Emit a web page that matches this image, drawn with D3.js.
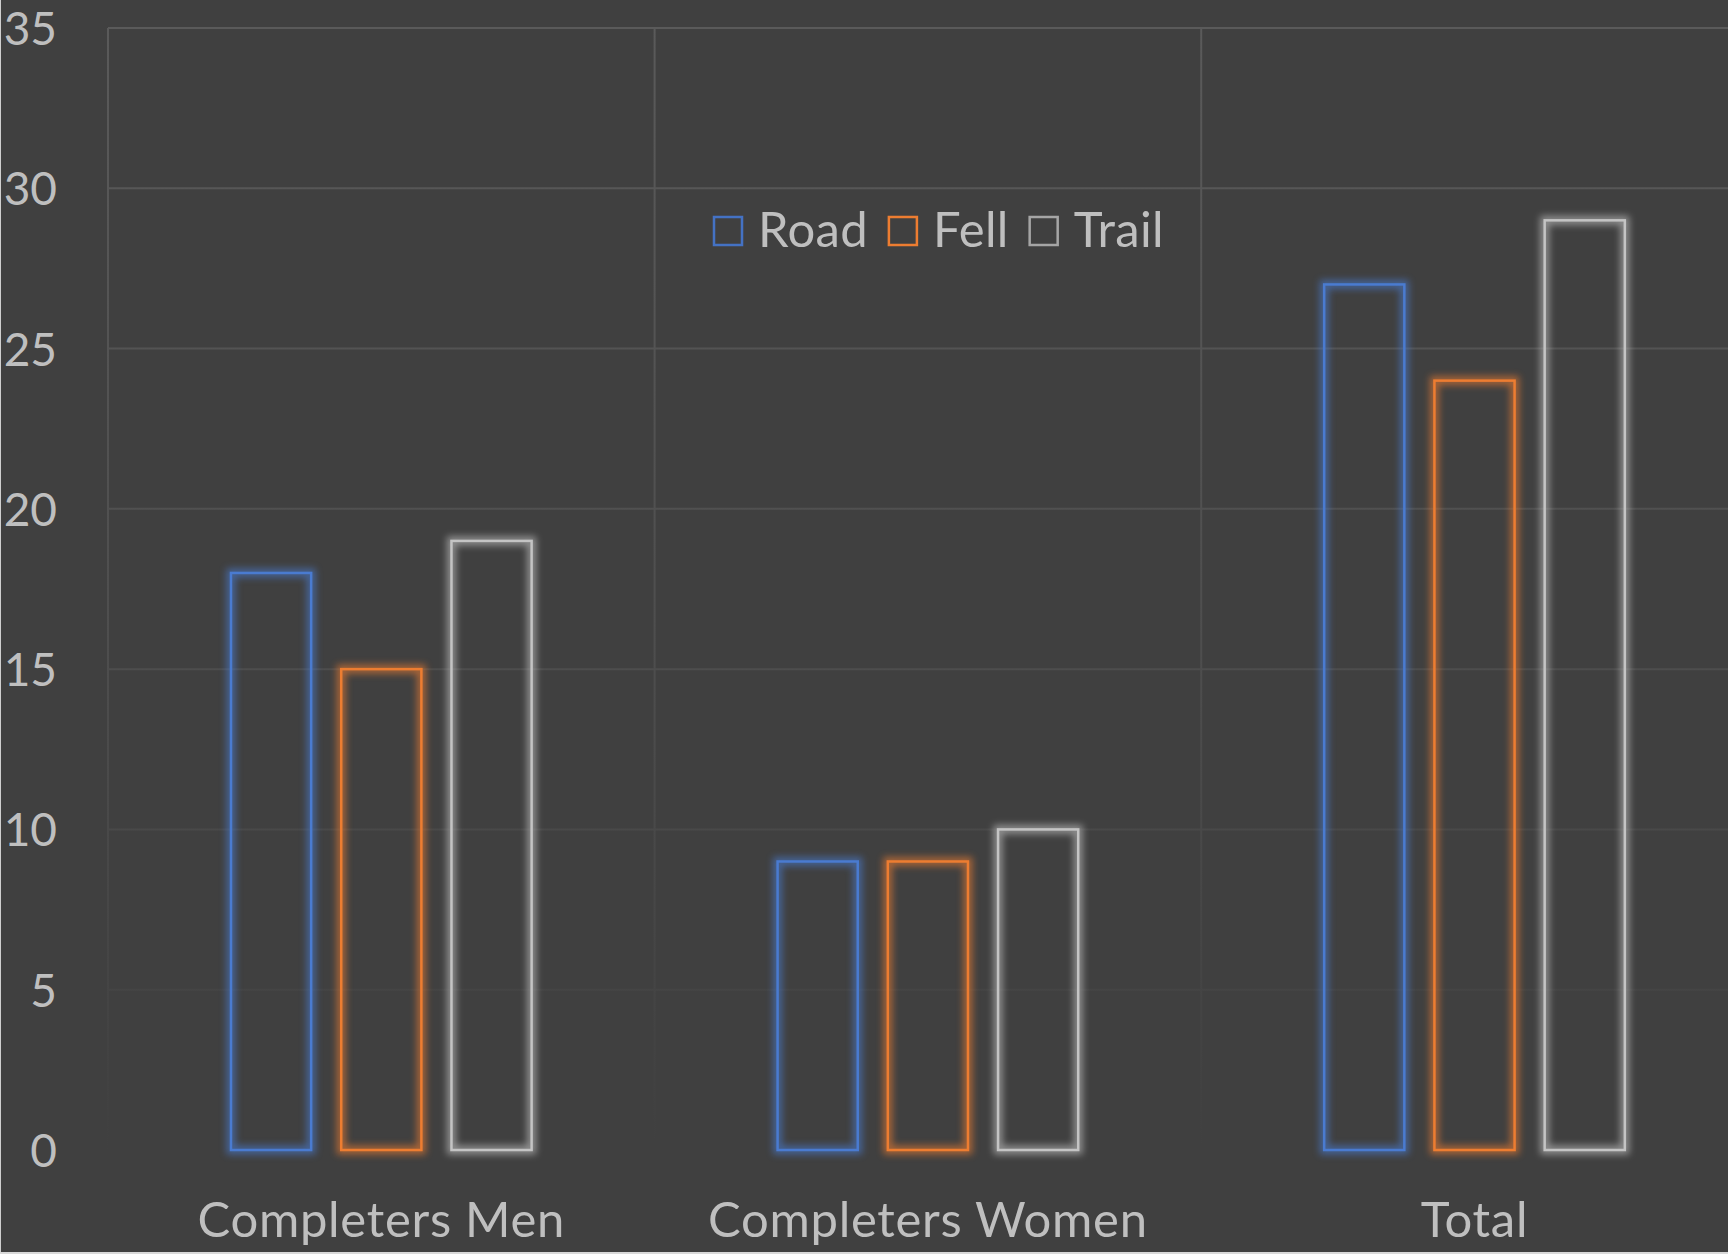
<!DOCTYPE html>
<html>
<head>
<meta charset="utf-8">
<script src="https://cdn.jsdelivr.net/npm/d3@7/dist/d3.min.js"></script>
<style>
  html, body { margin: 0; padding: 0; background: #404040; overflow: hidden; }
  svg { display: block; }
  text { font-family: Lato, "Open Sans", sans-serif; fill: #bfbfbf; letter-spacing: 0.7px; }
</style>
</head>
<body>
<svg id="chart" width="1728" height="1254"></svg>
<script>
// Race finishers by type of running background
const categories = ["Completers Men", "Completers Women", "Total"];
const seriesNames = ["Road", "Fell", "Trail"];
const road  = [18, 9, 27];
const fell  = [15, 9, 24];
const trail = [19, 10, 29];
const yTicks = [0, 5, 10, 15, 20, 25, 30, 35];

const seriesValues = [road, fell, trail];
const barColors = ["#4a7bd0", "#ed7d31", "#c4c4c4"];
const keyColors = ["#4472c4", "#ed7d31", "#a5a5a5"];

const W = 1728, H = 1254;
const plot = { left: 108, top: 28, bottom: 1150, catWidth: 546.6 };
const FONT = 49;

const svg = d3.select("#chart");

const defs = svg.append("defs");
const grad = defs.append("linearGradient")
  .attr("id", "gridFade")
  .attr("gradientUnits", "userSpaceOnUse")
  .attr("x1", 0).attr("y1", plot.top).attr("x2", 0).attr("y2", plot.bottom);
grad.append("stop").attr("offset", 0).attr("stop-color", "#5a5a5a");
grad.append("stop").attr("offset", 0.55).attr("stop-color", "#4e4e4e");
grad.append("stop").attr("offset", 1).attr("stop-color", "#404040");

const glow = defs.append("filter").attr("id", "glow")
  .attr("x", "-30%").attr("y", "-10%").attr("width", "160%").attr("height", "120%");
glow.append("feGaussianBlur").attr("in", "SourceGraphic").attr("stdDeviation", 3.5);

svg.append("rect").attr("width", W).attr("height", H).attr("fill", "#404040");

const x0 = d3.scaleBand()
  .domain(categories)
  .range([plot.left, plot.left + plot.catWidth * categories.length])
  .paddingInner(0).paddingOuter(0);

const x1 = d3.scaleBand()
  .domain(seriesNames)
  .range([0.225 * x0.bandwidth(), 0.775 * x0.bandwidth()])
  .paddingInner(0.273).paddingOuter(0);

const y = d3.scaleLinear().domain([0, 35]).range([plot.bottom, plot.top]);

// gridlines
const grid = svg.append("g").attr("stroke", "url(#gridFade)").attr("stroke-width", 2);
grid.selectAll("line.h").data(yTicks).join("line")
  .attr("class", "h")
  .attr("x1", plot.left).attr("x2", W)
  .attr("y1", d => y(d)).attr("y2", d => y(d));
grid.selectAll("line.v").data(categories).join("line")
  .attr("class", "v")
  .attr("x1", d => x0(d)).attr("x2", d => x0(d))
  .attr("y1", plot.top).attr("y2", plot.bottom);

// y axis labels
const yAxis = d3.axisLeft(y).tickValues(yTicks).tickSize(0).tickPadding(0).tickFormat(d3.format("d"));
const yg = svg.append("g").attr("transform", "translate(57,0)").call(yAxis);
yg.select(".domain").remove();
yg.selectAll("text")
  .attr("font-size", 46).attr("fill", "#bfbfbf").attr("dy", "0.36em")
  .style("letter-spacing", "0px")
  .style("font-family", "Lato, 'Open Sans', sans-serif");

// x axis labels
const xAxis = d3.axisBottom(x0).tickSize(0).tickPadding(0);
const xg = svg.append("g").attr("transform", `translate(0,${plot.bottom})`).call(xAxis);
xg.select(".domain").remove();
xg.selectAll("text")
  .attr("font-size", FONT).attr("fill", "#bfbfbf").attr("y", 87).attr("dy", 0)
  .style("font-family", "Lato, 'Open Sans', sans-serif");

// bars: outlined with a soft glow
const rows = categories.map((c, ci) => ({
  cat: c,
  vals: seriesNames.map((s, si) => ({ s, si, v: seriesValues[si][ci] }))
}));

const groups = svg.append("g").selectAll("g").data(rows).join("g")
  .attr("transform", d => `translate(${x0(d.cat)},0)`);

groups.selectAll("rect.glow").data(d => d.vals).join("rect")
  .attr("class", "glow")
  .attr("x", d => x1(d.s)).attr("width", x1.bandwidth())
  .attr("y", d => y(d.v)).attr("height", d => y(0) - y(d.v))
  .attr("fill", "none").attr("stroke", d => barColors[d.si])
  .attr("stroke-width", 9).attr("opacity", 0.6)
  .attr("filter", "url(#glow)");

groups.selectAll("rect.bar").data(d => d.vals).join("rect")
  .attr("class", "bar")
  .attr("x", d => x1(d.s)).attr("width", x1.bandwidth())
  .attr("y", d => y(d.v)).attr("height", d => y(0) - y(d.v))
  .attr("fill", "none").attr("stroke", d => barColors[d.si])
  .attr("stroke-width", 2.5);

// legend
const legend = svg.append("g");
let lx = 713;
seriesNames.forEach((s, i) => {
  legend.append("rect")
    .attr("x", lx + 1).attr("y", 217).attr("width", 28).attr("height", 28)
    .attr("fill", "none").attr("stroke", keyColors[i]).attr("stroke-width", 2.5);
  const t = legend.append("text")
    .attr("x", lx + 45).attr("y", 247)
    .attr("font-size", FONT).style("letter-spacing", "0.3px").text(s);
  lx = lx + 45 + t.node().getComputedTextLength() + 20;
});

// outer frame edges
svg.append("line").attr("x1", 0.5).attr("x2", 0.5).attr("y1", 0).attr("y2", H)
  .attr("stroke", "#cfcfcf").attr("stroke-width", 1);
svg.append("line").attr("x1", 0).attr("x2", W).attr("y1", H - 1).attr("y2", H - 1)
  .attr("stroke", "#d9d9d9").attr("stroke-width", 2);
</script>
</body>
</html>
